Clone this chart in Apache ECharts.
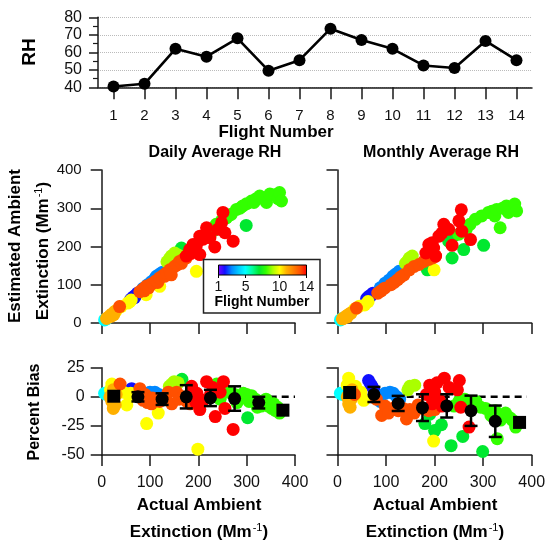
<!DOCTYPE html>
<html><head><meta charset="utf-8">
<script src="https://cdn.jsdelivr.net/npm/echarts@6/dist/echarts.min.js"></script>
<style>html,body{margin:0;padding:0;background:#fff}#c{width:549px;height:551px}</style>
</head><body><div id="c"></div>
<script>
// ---------- data ----------
const flights = ['1','2','3','4','5','6','7','8','9','10','11','12','13','14'];
const rhValues = [40.5, 42, 62, 57.5, 68, 49.5, 55.5, 73.5, 67, 62, 52.5, 51, 66.5, 55.5];

const flightColors = ['#8000ff','#1010ff','#0088ff','#00c8ff','#00ffff','#00ff9a','#00e830',
                      '#33ff00','#aaff00','#ffff00','#ffb000','#ff8000','#ff5000','#ff0000'];
const colorbarTicks = [1, 5, 10, 14];

// [actual extinction, estimated extinction, flight]
const dailyEstimated = [
 [60,62,2],[65,68,2],[70,72,2],[74,78,2],[68,66,2],
 [85,90,3],[95,100,3],[103,108,3],[110,116,3],[113,122,3],[120,128,3],[126,133,3],
 [6,8,5],[10,11,5],
 [165,196,7],[299,255,7],
 [230,240,8],[237,258,8],[245,250,8],[248,267,8],[258,275,8],[262,280,8],[268,284,8],[279,297,8],[286,300,8],[292,306,8],[300,312,8],
 [310,319,8],[315,315,8],[320,325,8],[327,332,8],[334,326,8],[341,315,8],[348,337,8],[358,335,8],[365,325,8],[368,341,8],[372,319,8],
 [135,160,9],[140,168,9],[144,175,9],[151,183,9],[158,178,9],
 [23,22,10],[30,32,10],[40,43,10],[54,52,10],[58,56,10],[61,60,10],[92,74,10],[120,96,10],[196,135,10],
 [10,12,11],[15,16,11],[18,20,11],[20,18,11],[22,24,11],[25,22,11],[27,30,11],
 [37,43,13],[79,82,13],[85,88,13],[88,84,13],[92,96,13],[97,92,13],[100,100,13],[106,104,13],[112,110,13],[116,106,13],[120,118,13],[127,124,13],
 [130,122,13],[134,131,13],[141,139,13],[144,126,13],[151,148,13],[156,152,13],[161,161,13],[165,156,13],[168,166,13],[175,170,13],
 [251,289,14],[248,262,14],[217,249,14],[255,236,14],[272,214,14],[234,199,14],[203,227,14],[189,205,14],
 [182,192,14],[175,175,14],[203,179,14],[210,219,14],[224,223,14],[196,203,14],[185,182,14],[240,245,14]
];
const monthlyEstimated = [
 [60,64,2],[64,69,2],[68,70,2],[70,74,2],[73,78,2],
 [88,92,3],[98,104,3],[106,112,3],[114,122,3],[120,128,3],[127,135,3],
 [6,8,5],[10,12,5],
 [185,139,7],[236,170,7],[260,192,7],[301,203,7],[229,214,7],[239,227,7],
 [250,232,8],[258,240,8],[265,245,8],[273,258,8],[284,271,8],[297,280,8],[311,289,8],[318,292,8],[324,280,8],[328,297,8],
 [335,249,8],[340,300,8],[348,306,8],[352,289,8],[365,311,8],[369,293,8],
 [140,156,9],[144,161,9],[148,170,9],[154,175,9],
 [22,21,10],[35,36,10],[45,44,10],[56,47,10],[63,56,10],[199,139,10],
 [10,11,11],[12,12,11],[18,18,11],[20,16,11],[25,24,11],[28,26,11],
 [39,39,13],[83,78,13],[90,84,13],[97,91,13],[110,100,13],[117,106,13],[124,113,13],[130,120,13],[137,126,13],
 [148,139,13],[158,148,13],[168,153,13],[178,161,13],[188,166,13],[196,170,13],[202,175,13],
 [255,296,14],[250,267,14],[219,258,14],[256,240,14],[274,218,14],[236,203,14],[209,227,14],[188,205,14],
 [182,183,14],[198,196,14],[202,175,14],[229,245,14],[215,235,14],[195,210,14]
];
// [actual extinction, percent bias, flight]
const dailyBias = [
 [62,7,2],[66,4,2],[70,2,2],[72,5,2],
 [95,3,3],[100,4,3],[110,4,3],[118,2,3],[124,-3,3],[130,0,3],
 [6,3,5],[10,2,5],
 [166,15,7],[302,-18,7],
 [238,11,8],[245,-2,8],[250,6,8],[262,4,8],[275,2,8],[280,-5,8],[285,0,8],[293,3,8],[300,2,8],[310,1,8],
 [318,-2,8],[326,-4,8],[330,-8,8],[335,-5,8],[340,-2,8],[345,-8,8],[352,-10,8],[360,-12,8],[368,-14,8],
 [305,-4,8],[322,-9,8],[356,-6,8],[364,-9,8],
 [140,9,9],[145,11,9],[150,13,9],[158,12,9],
 [18,6,10],[21,11,10],[25,8,10],[45,4,10],[52,-7,10],[58,0,10],[60,3,10],[93,-23,10],[117,-14,10],[199,-45,10],
 [17,0,11],[21,-4,11],[24,-10,11],[24,6,11],[28,-7,11],[30,2,11],
 [38,11,13],[79,7,13],[86,-3,13],[90,2,13],[95,-5,13],[103,-6,13],[105,-1,13],[110,-2,13],[120,-4,13],
 [132,0,13],[138,4,13],[145,-6,13],[155,4,13],[160,-2,13],[168,0,13],[176,-4,13],[183,-6,13],
 [186,9,14],[217,13,14],[252,13,14],[203,-11,14],[235,-17,14],[255,-10,14],[272,-28,14],[245,4,14],
 [197,3,14],[210,-3,14],[186,0,14],[225,2,14],[195,-5,14],[230,8,14]
];
const monthlyBias = [
 [64,14,2],[68,11,2],[71,9,2],[75,6,2],
 [88,-4,3],[98,3,3],[108,4,3],[115,3,3],[122,0,3],[128,-2,3],
 [6,3,5],[10,2,5],
 [180,-23,7],[190,-15,7],[200,-29,7],[214,-24,7],[234,-42,7],[258,-34,7],[299,-47,7],
 [240,-8,8],[250,-4,8],[262,-2,8],[275,-6,8],[285,-4,8],[295,-9,8],[305,-10,8],[316,-16,8],[329,-36,8],
 [336,-20,8],[346,-14,8],[355,-18,8],[367,-26,8],[372,-22,8],[325,-12,8],[360,-20,8],
 [145,6,9],[149,9,9],[159,10,9],
 [20,10,10],[23,16,10],[37,9,10],[48,4,10],[54,-3,10],[198,-38,10],
 [20,0,11],[23,-6,11],[26,-9,11],[28,-2,11],[30,6,11],
 [35,2,13],[80,-2,13],[91,-16,13],[98,-8,13],[105,-14,13],[118,-9,13],[125,-12,13],[135,-10,13],[142,-19,13],
 [149,-11,13],[158,-14,13],[166,-7,13],[175,-10,13],[188,-12,13],[200,-11,13],
 [190,10,14],[220,16,14],[251,14,14],[247,6,14],[200,4,14],[210,-3,14],[254,-9,14],[271,-26,14],
 [205,12,14],[230,8,14],[215,-8,14],[183,2,14],[195,-6,14]
];
// binned means with error bars
const binCenters = [25, 75, 125, 175, 225, 275, 325, 375];
const dailyBinMean = [0.5, 0, -2, 0, -1, -1.5, -5, -11.5];
const dailyBinErr = [0, 4, 5, 10, 7, 10.5, 5, 0];
const monthlyBinMean = [3.7, 2, -5.7, -9.3, -7.8, -12, -21, -22];
const monthlyBinErr = [0, 6.5, 6.5, 11.5, 10, 13, 13.5, 0];
const zeroLineLeft = [[0, 0], [400, 0]];
const zeroLineRight = [[-80, 0], [390, 0]];

// ---------- chart ----------
const FONT = '"Liberation Sans", Arial, Helvetica, sans-serif';
const INK = '#1a1a1a';
const chart = echarts.init(document.getElementById('c'), null, {renderer: 'canvas'});

function axisBase(extra) {
  return Object.assign({
    axisLine: {show: true, onZero: false, lineStyle: {color: INK, width: 1.5}},
    axisTick: {show: true, length: 11, lineStyle: {color: INK, width: 1.5}},
    axisLabel: {color: '#111', fontSize: 15, fontFamily: FONT},
    splitLine: {show: false}
  }, extra);
}
function extAxis(grid, showLabel, fs, margin) {
  return axisBase({type: 'value', gridIndex: grid, min: 0, max: 400, interval: 100,
    axisLabel: {show: showLabel, color: '#111', fontSize: fs, fontFamily: FONT, margin: margin}});
}

function errRender(params, api) {
  const x = api.value(0), m = api.value(1), e = api.value(2);
  if (!e) return null;
  const top = api.coord([x, m + e]), bot = api.coord([x, m - e]);
  const hw = 6.5, st = {stroke: '#000', lineWidth: 2.5};
  return {type: 'group', children: [
    {type: 'line', shape: {x1: top[0], y1: top[1], x2: bot[0], y2: bot[1]}, style: st},
    {type: 'line', shape: {x1: top[0] - hw, y1: top[1], x2: top[0] + hw, y2: top[1]}, style: st},
    {type: 'line', shape: {x1: bot[0] - hw, y1: bot[1], x2: bot[0] + hw, y2: bot[1]}, style: st}
  ]};
}
function colorbarRender(params, api) {
  const p0 = api.coord([api.value(0), 1]);
  const p1 = api.coord([api.value(1), 0]);
  return {type: 'rect', shape: {x: p0[0], y: p0[1], width: p1[0] - p0[0], height: p1[1] - p0[1]},
    style: {fill: {type: 'linear', x: 0, y: 0, x2: 1, y2: 0,
      colorStops: flightColors.map((c, i) => ({offset: i / (flightColors.length - 1), color: c}))},
      stroke: '#000', lineWidth: 1}};
}
function meanSymbol(val, params) {
  return (params.dataIndex === 0 || params.dataIndex === binCenters.length - 1) ? 'rect' : 'circle';
}

const txt = (x, y, text, size, rot, extra) => Object.assign({
  type: 'text', x: x, y: y, rotation: rot || 0, z: 30,
  style: {text: text, font: 'bold ' + size + 'px ' + FONT, fill: '#000', align: 'center', verticalAlign: 'middle'}
}, extra || {});
const extText = (x, y, size, rot) => ({
  type: 'text', x: x, y: y, rotation: rot || 0, z: 30,
  style: {text: 'Extinction (Mm{sup|-1})', font: 'bold ' + size + 'px ' + FONT, fill: '#000',
    align: 'center', verticalAlign: 'middle',
    rich: {sup: {fontSize: 11, fontFamily: FONT, fontWeight: 'normal', fill: '#000', verticalAlign: 'top', padding: [0, 0, 9, 1]}}}
});
const dotStyle = {opacity: 1};

const option = {
  backgroundColor: '#fff',
  animation: false,
  grid: [
    {left: 98, top: 17.3, width: 434, height: 70},
    {left: 101.7, top: 170, width: 193.3, height: 153},
    {left: 337.5, top: 170, width: 194.2, height: 153},
    {left: 101.7, top: 367.7, width: 193.3, height: 87.3},
    {left: 337.5, top: 367.7, width: 194.2, height: 87.3},
    {left: 218.5, top: 265, width: 88, height: 10, z: 20}
  ],
  xAxis: [
    axisBase({type: 'category', gridIndex: 0, data: flights, boundaryGap: true,
      axisTick: {show: true, alignWithLabel: true, length: 12, lineStyle: {color: INK, width: 1.5}},
      axisLabel: {color: '#111', fontSize: 15, fontFamily: FONT, margin: 21}}),
    extAxis(1, false, 15, 8),
    extAxis(2, false, 15, 8),
    extAxis(3, true, 16, 20),
    extAxis(4, true, 16, 20),
    {type: 'value', gridIndex: 5, min: 1, max: 14, z: 21,
      axisLine: {show: false},
      axisTick: {show: true, customValues: colorbarTicks, length: 3, lineStyle: {color: '#000', width: 1}},
      axisLabel: {show: true, customValues: colorbarTicks, fontSize: 14, fontFamily: FONT, color: '#111', margin: 5},
      splitLine: {show: false}}
  ],
  yAxis: [
    axisBase({type: 'value', gridIndex: 0, min: 40, max: 80, interval: 10,
      axisTick: {show: true, length: 9, lineStyle: {color: INK, width: 1.5}},
      minorTick: {show: true, splitNumber: 2, length: 5, lineStyle: {color: INK, width: 1.2}},
      axisLabel: {color: '#111', fontSize: 16, fontFamily: FONT, margin: 16},
      splitLine: {show: true, lineStyle: {color: '#bbb', type: 'dotted', width: 1}}}),
    axisBase({type: 'value', gridIndex: 1, min: 0, max: 400, interval: 100,
      axisLabel: {color: '#111', fontSize: 15, fontFamily: FONT, margin: 20}}),
    axisBase({type: 'value', gridIndex: 2, min: 0, max: 400, interval: 100, axisLabel: {show: false}}),
    axisBase({type: 'value', gridIndex: 3, min: -50, max: 25, interval: 25,
      axisLabel: {color: '#111', fontSize: 16, fontFamily: FONT, margin: 17}}),
    axisBase({type: 'value', gridIndex: 4, min: -50, max: 25, interval: 25, axisLabel: {show: false}}),
    {type: 'value', gridIndex: 5, min: 0, max: 1, show: false}
  ],
  visualMap: {type: 'continuous', show: false, min: 1, max: 14, dimension: 2,
    seriesIndex: [1, 2, 3, 4], inRange: {color: flightColors}},
  series: [
    {type: 'line', xAxisIndex: 0, yAxisIndex: 0, data: rhValues, symbol: 'circle', symbolSize: 12,
      lineStyle: {color: '#000', width: 2.6}, itemStyle: {color: '#000'}, z: 5},
    {type: 'scatter', xAxisIndex: 1, yAxisIndex: 1, data: dailyEstimated, symbolSize: 13, itemStyle: dotStyle, z: 2},
    {type: 'scatter', xAxisIndex: 2, yAxisIndex: 2, data: monthlyEstimated, symbolSize: 13, itemStyle: dotStyle, z: 2},
    {type: 'scatter', xAxisIndex: 3, yAxisIndex: 3, data: dailyBias, symbolSize: 13, itemStyle: dotStyle, z: 2},
    {type: 'scatter', xAxisIndex: 4, yAxisIndex: 4, data: monthlyBias, symbolSize: 13, itemStyle: dotStyle, z: 2},
    {type: 'line', xAxisIndex: 3, yAxisIndex: 3, data: zeroLineLeft, symbol: 'none', clip: false, z: 1,
      lineStyle: {color: '#000', width: 2.5, type: [7, 5]}},
    {type: 'line', xAxisIndex: 4, yAxisIndex: 4, data: zeroLineRight, symbol: 'none', clip: false, z: 1,
      lineStyle: {color: '#000', width: 2.5, type: [7, 5]}},
    {type: 'custom', xAxisIndex: 3, yAxisIndex: 3, renderItem: errRender, encode: {x: 0, y: 1}, z: 3,
      data: binCenters.map((c, i) => [c, dailyBinMean[i], dailyBinErr[i]])},
    {type: 'custom', xAxisIndex: 4, yAxisIndex: 4, renderItem: errRender, encode: {x: 0, y: 1}, z: 3,
      data: binCenters.map((c, i) => [c, monthlyBinMean[i], monthlyBinErr[i]])},
    {type: 'scatter', xAxisIndex: 3, yAxisIndex: 3, symbol: meanSymbol, symbolSize: 13, itemStyle: {color: '#000', opacity: 1}, z: 4,
      data: binCenters.map((c, i) => [c, dailyBinMean[i]])},
    {type: 'scatter', xAxisIndex: 4, yAxisIndex: 4, symbol: meanSymbol, symbolSize: 13, itemStyle: {color: '#000', opacity: 1}, z: 4,
      data: binCenters.map((c, i) => [c, monthlyBinMean[i]])},
    {type: 'custom', xAxisIndex: 5, yAxisIndex: 5, renderItem: colorbarRender, encode: {x: [0, 1]}, z: 20,
      data: [[colorbarTicks[0], colorbarTicks[colorbarTicks.length - 1]]]}
  ],
  graphic: {elements: [
    {type: 'rect', z: 10, shape: {x: 203.5, y: 259.5, width: 116.5, height: 53.5},
      style: {fill: '#fff', stroke: '#222', lineWidth: 1.5}},
    txt(262, 302, 'Flight Number', 14),
    txt(30, 52, 'RH', 19, Math.PI / 2),
    txt(276, 132, 'Flight Number', 17),
    txt(215, 153, 'Daily Average RH', 16),
    txt(441, 153, 'Monthly Average RH', 16),
    txt(15, 246, 'Estimated Ambient', 17, Math.PI / 2),
    extText(43, 251, 17, Math.PI / 2),
    txt(35, 412, 'Percent Bias', 16, Math.PI / 2),
    txt(199, 505, 'Actual Ambient', 17),
    extText(199, 532, 17, 0),
    txt(435, 505, 'Actual Ambient', 17),
    extText(435, 532, 17, 0)
  ]}
};
chart.setOption(option);
</script>
</body></html>
